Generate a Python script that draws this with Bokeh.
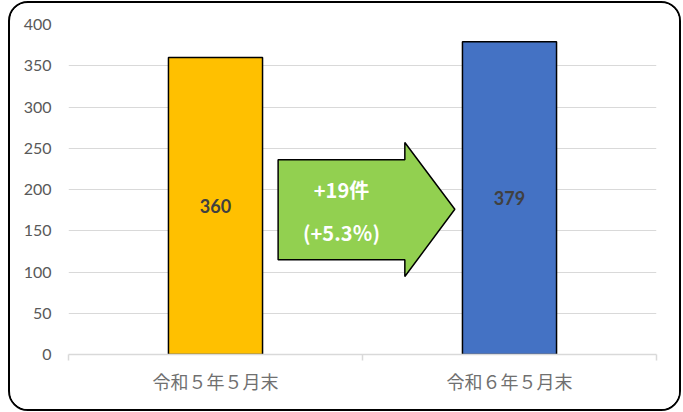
from bokeh.plotting import figure
from bokeh.models import Range1d, LinearAxis, FixedTicker, ColumnDataSource
from bokeh.core.properties import value
from bokeh.embed import file_html
from bokeh.resources import INLINE

# ---- data ----
categories = ["令和５年５月末", "令和６年５月末"]
counts = [360, 379]
bar_colors = ["#FFC000", "#4472C4"]
y_ticks = [0, 50, 100, 150, 200, 250, 300, 350, 400]

diff = counts[1] - counts[0]
pct = diff / counts[0] * 100
arrow_lines = [f"+{diff}件", f"(+{pct:.1f}％)"]

NUM_FONT = "Lato"
JP_FONT = "Noto Sans CJK JP"
BAR_W = 0.32

xpos = [i + 0.5 for i in range(len(categories))]

p = figure(width=673, height=410,
           x_range=Range1d(0, len(categories)), y_range=Range1d(0, 400),
           output_backend="svg", toolbar_location=None,
           x_axis_location=None, y_axis_location=None,
           min_border_left=58, min_border_right=27,
           min_border_top=21, min_border_bottom=59,
           outline_line_color=None,
           styles={"border": "2.5px solid black", "border-radius": "20px",
                   "overflow": "hidden", "margin": "1px 0 0 8px"})

# grid
p.xgrid.visible = False
p.ygrid.ticker = FixedTicker(ticks=y_ticks)
p.ygrid.grid_line_color = "#d9d9d9"
p.ygrid.grid_line_width = 1

# y axis
yax = LinearAxis(ticker=FixedTicker(ticks=y_ticks))
yax.axis_line_color = None
yax.major_tick_line_color = None
yax.major_tick_out = 0
yax.major_tick_in = 0
yax.minor_tick_line_color = None
yax.major_label_text_font = NUM_FONT
yax.major_label_text_font_size = "16px"
yax.major_label_text_color = "#595959"
yax.major_label_standoff = 17
p.add_layout(yax, "left")

# boundary-tick axis
tax = LinearAxis(ticker=FixedTicker(ticks=list(range(len(categories) + 1))))
tax.axis_line_color = "#d9d9d9"
tax.axis_line_width = 1.5
tax.major_tick_line_color = "#d9d9d9"
tax.major_tick_line_width = 1.5
tax.major_tick_in = 0
tax.major_tick_out = 6
tax.minor_tick_line_color = None
tax.major_label_text_font_size = "1px"
tax.major_label_text_alpha = 0
tax.major_label_standoff = 0
p.add_layout(tax, "below")

# category axis
cax = LinearAxis(ticker=FixedTicker(ticks=xpos),
                 major_label_overrides={x: c for x, c in zip(xpos, categories)})
cax.axis_line_color = None
cax.major_tick_line_color = None
cax.major_tick_out = 0
cax.major_tick_in = 0
cax.minor_tick_line_color = None
cax.major_label_text_font = JP_FONT
cax.major_label_text_font_size = "18px"
cax.major_label_text_color = "#707070"
cax.major_label_standoff = 7
p.add_layout(cax, "below")

# bars
src = ColumnDataSource(dict(x=xpos, val=counts, color=bar_colors,
                            mid=[v / 2 for v in counts], lab=[str(v) for v in counts]))
p.vbar(x="x", top="val", width=BAR_W, source=src, fill_color="color",
       line_color="black", line_width=1.5)
p.text(x="x", y="mid", text="lab", source=src, text_align="center", text_baseline="middle",
       text_font=value(NUM_FONT), text_font_style="bold", text_font_size="18px",
       text_color="#404040")

# arrow (decoration between bars)
ax0 = 0.713; ax1 = 1.144; ax2 = 1.314
ay_body = (115, 236); ay_head = (94.5, 257); ay_tip = 176
p.patch(x=[ax0, ax1, ax1, ax2, ax1, ax1, ax0],
        y=[ay_body[0], ay_body[0], ay_head[0], ay_tip, ay_head[1], ay_body[1], ay_body[1]],
        fill_color="#92D050", line_color="black", line_width=1.5)
tx = (ax0 + ax1) / 2
p.text(x=[tx, tx], y=[200, 148], text=arrow_lines,
       text_align="center", text_baseline="middle",
       text_font=value(JP_FONT), text_font_style="bold", text_font_size="20px",
       text_color="white")

open("out.html", "w").write(file_html(p, INLINE))
